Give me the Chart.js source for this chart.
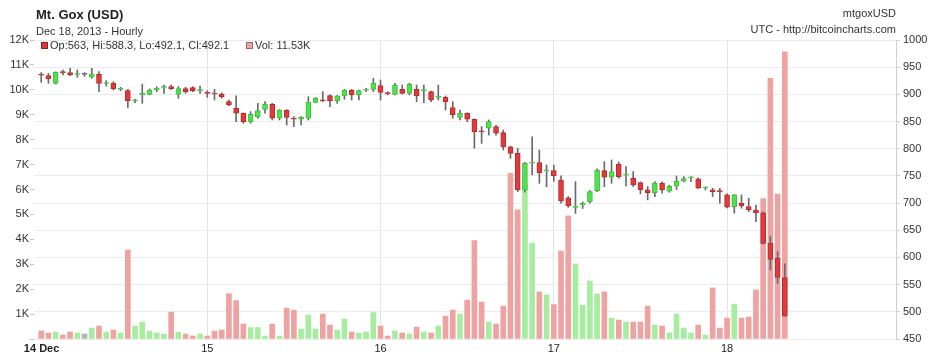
<!DOCTYPE html>
<html>
<head>
<meta charset="utf-8">
<script src="https://cdn.jsdelivr.net/npm/chart.js@4.4.1/dist/chart.umd.min.js"></script>
<style>
  html, body { margin: 0; padding: 0; background: #fff; }
  #wrap { position: relative; width: 944px; height: 356px; font-family: "Liberation Sans", Arial, sans-serif; color: #333; }
  canvas { position: absolute; left: 0; top: 0; }
  .t { position: absolute; white-space: nowrap; font-size: 11px; line-height: 11px; }
  .sq { position: absolute; width: 5px; height: 5px; }
</style>
</head>
<body>
<div id="wrap">
  <canvas id="chart" width="944" height="356"></canvas>
  <div class="t" style="left:36px;top:7.5px;font-size:13px;line-height:13px;font-weight:bold;color:#222">Mt. Gox (USD)</div>
  <div class="t" style="left:36px;top:26px">Dec 18, 2013 - Hourly</div>
  <div class="t" style="right:48px;top:7.7px">mtgoxUSD</div>
  <div class="t" style="right:48px;top:24.2px">UTC - http://bitcoincharts.com</div>
  <div class="sq" style="left:41px;top:42px;background:#d8383c;border:1px solid #8a2020"></div>
  <div class="t" id="ohlcText" style="left:50px;top:39.7px"></div>
  <div class="sq" style="left:246px;top:42px;background:#eba4a4;border:1px solid #a86464"></div>
  <div class="t" id="volText" style="left:255px;top:39.7px"></div>
</div>
<script>
// hourly candles, hour 0 = 14 Dec 00:00 UTC
const hours = [];
for (let h = 1; h <= 104; h++) hours.push(h);

const opens = [
  936, 934.4, 920.3, 940.5, 939.9, 936.5, 936.9, 931.4, 936.9, 920,
  920.3, 909.3, 906.8, 888, 898.9, 900.1, 908, 913, 914.2, 900.1,
  910.5, 912.3, 907, 902.5, 901.2, 900.7, 886.6, 874.4, 865.2, 849.9,
  859, 872.5, 881.7, 856, 871.3, 854.8, 854.2, 856, 885.4, 888.4,
  897.7, 887.8, 897.1, 908, 898.9, 907.5, 909.3, 916, 902, 900.1,
  909.3, 901.9, 909.3, 906.8, 905, 894.6, 894.6, 875.6, 857.8, 865.2,
  854.2, 831.3, 838, 840.7, 829.5, 803.7, 791.5, 724.1, 773.5, 774.3,
  759, 759.6, 742.5, 709.9, 692.2, 696.5, 702.5, 722.9, 759.7, 747.5,
  771.5, 751.5, 745.6, 737.7, 724.2, 719.3, 736.5, 722, 731, 740.2,
  746.5, 744.4, 727.8, 724.2, 721.5, 715, 693.6, 699.7, 693.6, 687.3,
  682.3, 626, 598.4, 563
];
const highs = [
  940, 938.7, 941.5, 944.8, 947.9, 944.8, 940, 947.9, 941.7, 925.2,
  923.3, 913, 909.3, 891, 919, 910, 914.2, 917.2, 917.2, 914.2,
  913, 914.2, 915.4, 906.8, 909.3, 903, 889.6, 897.1, 866, 868.2,
  883.5, 886.6, 883.5, 872, 872, 859, 859, 895.8, 894, 905,
  899, 898, 909, 909, 908, 911, 929.5, 926.4, 905, 920.3,
  917.2, 920.3, 917.2, 917.2, 906, 917.2, 897.1, 886.6, 871.3, 866,
  855, 840.7, 852.9, 843, 834.4, 805, 800.8, 775, 822, 797.6,
  770, 770, 750, 712, 739.4, 702, 723, 763, 776.2, 779.3,
  775.6, 767, 757.9, 739, 730.3, 739.5, 739, 733, 749.9, 748.7,
  748.7, 746.4, 730, 727.3, 727.3, 717, 716, 715, 709, 696.5,
  684, 638.2, 610.6, 588.3
];
const lows = [
  922, 920.3, 919, 935.6, 934.4, 931.4, 933, 929.5, 905, 915.4,
  908, 906.8, 875.6, 884.7, 883.5, 899, 905, 901.9, 909.3, 892.8,
  902, 905, 901.9, 894.6, 889.6, 892.8, 879, 849.9, 846.8, 846.8,
  856, 865.2, 852.9, 852.9, 843.7, 840.7, 843.7, 852.9, 884.7, 886.6,
  877.4, 883.5, 891, 889.6, 889.6, 905, 905, 889.6, 898.9, 898.9,
  900.7, 898.9, 886.6, 884.7, 886.6, 889.6, 871.3, 856, 852.9, 849.9,
  800.8, 809.9, 825.1, 825, 797.7, 782.4, 721, 720, 751.7, 736.4,
  730, 740, 700, 692, 681, 690, 700, 721, 730.3, 736.5,
  745.6, 731.5, 730.3, 716.9, 705.9, 712, 718.1, 720, 724.8, 739,
  739.4, 727, 724.2, 712, 699.7, 691, 681.4, 690.6, 684.3, 666,
  625, 577, 552.4, 492.1
];
const closes = [
  935.5, 928.3, 940.5, 940, 935.6, 937, 936.9, 937.5, 920.3, 920.5,
  909.9, 911.1, 888.4, 888.6, 901.9, 908, 911.1, 914.2, 910.5, 910.5,
  904.4, 906.8, 908, 901.9, 900.7, 895.8, 880.5, 865.2, 849.9, 863.3,
  870.1, 882.3, 856, 871.3, 857.8, 854.2, 857.8, 886, 892.8, 888,
  887.8, 897.1, 908, 898.9, 906.8, 908, 920.3, 903.8, 901.5, 917.2,
  901.9, 918.4, 897.1, 907.2, 889.6, 895, 886.6, 862.1, 865.2, 854.2,
  831.5, 831, 850, 828.4, 803.7, 791.5, 724.1, 773.2, 774.3, 755.9,
  759.6, 749.8, 703.8, 694.6, 694.6, 699.5, 721, 760.9, 747.5, 757.9,
  748.7, 751.8, 733.4, 724.2, 719.3, 736.5, 724.2, 730.9, 740.2, 745,
  746.8, 727.3, 728.4, 721.2, 721, 692.4, 715, 694.8, 687.5, 682.3,
  626, 596.6, 563.5, 492.1
];
const volumes = [
  320, 240, 280, 160, 280, 240, 200, 440, 520, 280,
  360, 240, 3570, 520, 680, 320, 240, 200, 1080, 280,
  200, 120, 200, 120, 320, 360, 1820, 1540, 600, 460,
  460, 120, 600, 120, 1240, 1160, 400, 960, 400, 1000,
  560, 360, 800, 280, 240, 280, 1060, 520, 120, 320,
  240, 200, 480, 280, 240, 520, 920, 1160, 1000, 1560,
  3950, 1480, 680, 600, 1320, 6650, 5180, 6200, 3840, 1890,
  1770, 1380, 3530, 4940, 3010, 1350, 2330, 1810, 1890, 840,
  760, 680, 680, 680, 1320, 560, 520, 240, 1000, 440,
  240, 560, 160, 2050, 440, 840, 1400, 840, 880, 1970,
  5640, 10460, 5820, 11530
];

const dayTicks = [0, 24, 48, 72, 96];
const dayLabels = ['14 Dec', '15', '16', '17', '18'];

const FONT = '"Liberation Sans", Arial, sans-serif';

// legend text from the last candle
const last = hours.length - 1;
document.getElementById('ohlcText').textContent =
  'Op:' + opens[last] + ', Hi:' + highs[last] + ', Lo:' + lows[last] + ', Cl:' + closes[last];
document.getElementById('volText').textContent = 'Vol: ' + (volumes[last] / 1000).toFixed(2) + 'K';

function dir(i) {
  if (closes[i] > opens[i]) return 1;
  if (closes[i] < opens[i]) return -1;
  return 0;
}

const ctx = document.getElementById('chart').getContext('2d');
new Chart(ctx, {
  data: {
    datasets: [
      {
        type: 'bar',
        label: 'Volume',
        yAxisID: 'yVol',
        data: hours.map((h, i) => ({ x: h, y: volumes[i] })),
        backgroundColor: c => {
          const d = dir(c.dataIndex);
          return d > 0 ? '#a6eda0' : d < 0 ? '#efa2a2' : '#b4b4b4';
        },
        barThickness: 5,
        grouped: false,
        order: 3
      },
      {
        type: 'bar',
        label: 'Range',
        yAxisID: 'yPrice',
        data: hours.map((h, i) => ({ x: h, y: [lows[i], highs[i]] })),
        backgroundColor: '#6a6a6a',
        barThickness: 1,
        grouped: false,
        order: 2
      },
      {
        type: 'bar',
        label: 'Body',
        yAxisID: 'yPrice',
        data: hours.map((h, i) => ({ x: h, y: [opens[i], closes[i]] })),
        backgroundColor: c => {
          const d = dir(c.dataIndex);
          return d > 0 ? '#52e052' : d < 0 ? '#e03a3c' : '#777';
        },
        borderColor: c => {
          const d = dir(c.dataIndex);
          return d > 0 ? '#3cbf3c' : d < 0 ? '#b82a2c' : '#666';
        },
        borderWidth: 1,
        borderSkipped: false,
        barThickness: 5,
        minBarLength: 1,
        grouped: false,
        order: 1
      }
    ]
  },
  options: {
    responsive: false,
    animation: false,
    devicePixelRatio: 1,
    layout: { padding: { top: 40, left: 0, right: 0, bottom: 0 } },
    plugins: {
      legend: { display: false },
      tooltip: { enabled: false },
      title: { display: false }
    },
    scales: {
      x: {
        type: 'linear',
        min: 0,
        max: 119.4,
        offset: false,
        // first label sits a little right of the left edge, like the original
        afterBuildTicks: s => { s.ticks = dayTicks.map((v, i) => ({ value: i === 0 ? v + 1.05 : v })); },
        afterFit: s => { s.height = 17; },
        grid: {
          color: c => (c.index === 0 ? 'rgba(0,0,0,0)' : '#e3e3e3'),
          drawTicks: false,
          offset: false
        },
        border: { display: false },
        ticks: {
          autoSkip: false,
          maxRotation: 0,
          padding: 3,
          color: '#222',
          font: c => ({ family: FONT, size: 11, weight: c.index === 0 ? 'bold' : 'normal' }),
          callback: (v, i) => dayLabels[i]
        }
      },
      yVol: {
        type: 'linear',
        position: 'left',
        min: 0,
        max: 12000,
        afterFit: s => { s.width = 34; },
        grid: { drawOnChartArea: false, tickLength: 4, tickColor: '#c8c8c8' },
        border: { display: false },
        ticks: {
          stepSize: 1000,
          padding: 1,
          color: '#333',
          font: { family: FONT, size: 11 },
          callback: v => (v === 0 ? '' : v / 1000 + 'K')
        }
      },
      yPrice: {
        type: 'linear',
        position: 'right',
        min: 450,
        max: 1000,
        afterFit: s => { s.width = 48; },
        grid: { color: '#ececec', tickLength: 4, tickColor: '#cfcfcf' },
        border: { display: true, color: '#cfcfcf' },
        ticks: {
          stepSize: 50,
          padding: 3,
          color: '#333',
          font: { family: FONT, size: 11 },
          callback: v => String(v)
        }
      }
    }
  }
});
</script>
</body>
</html>
